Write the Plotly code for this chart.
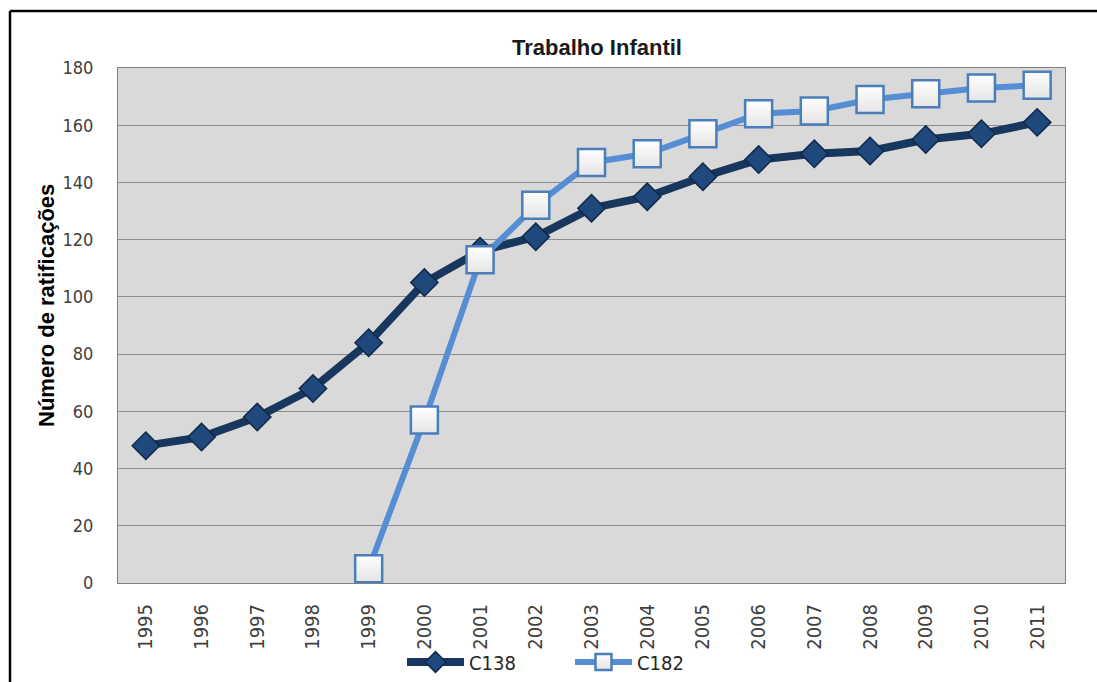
import plotly.graph_objects as go

years = ["1995", "1996", "1997", "1998", "1999", "2000", "2001", "2002", "2003",
         "2004", "2005", "2006", "2007", "2008", "2009", "2010", "2011"]
c138 = [48, 51, 58, 68, 84, 105, 116, 121, 131, 135, 142, 148, 150, 151, 155, 157, 161]
c182_years = years[4:]
c182 = [5, 57, 113, 132, 147, 150, 157, 164, 165, 169, 171, 173, 174]

W, H = 1097, 682
L, R, T, B = 118, 32, 68, 99
pw, ph = W - L - R, H - T - B

def px_x(p):
    return (p - L) / pw

def px_y(p):
    return (H - B - p) / ph

narrow = "DejaVu Sans Condensed, Liberation Sans Narrow, Arial Narrow, sans-serif"

fig = go.Figure()
fig.add_trace(go.Scatter(
    x=years, y=c138, name="C138", mode="lines+markers",
    line=dict(color="#17375e", width=8),
    marker=dict(symbol="diamond", size=21, color="#1f497d",
                line=dict(color="#10284a", width=1.5)),
))
fig.add_trace(go.Scatter(
    x=c182_years, y=c182, name="C182", mode="lines+markers",
    line=dict(color="#558ed5", width=6),
    marker=dict(symbol="square", size=27, color="#ffffff",
                gradient=dict(type="vertical", color="#e4e4e4"),
                line=dict(color="#4a7ebb", width=2.5)),
))

frame = dict(color="#000000", width=2.5)

fig.update_layout(
    width=W, height=H,
    margin=dict(l=L, r=R, t=T, b=B, autoexpand=False),
    paper_bgcolor="#ffffff",
    plot_bgcolor="#d9d9d9",
    title=dict(text="<b>Trabalho Infantil</b>", xref="container", x=597 / W,
               xanchor="center", y=1 - 47 / H, yanchor="middle",
               font=dict(family="Liberation Sans, Arial, sans-serif", size=22,
                         color="#1a1a1a")),
    showlegend=True,
    legend=dict(orientation="h", x=px_x(402), xanchor="left",
                y=px_y(662), yanchor="middle", itemwidth=57, entrywidth=96,
                font=dict(family=narrow, size=20, color="#262626"),
                bgcolor="rgba(0,0,0,0)", tracegroupgap=0),
    xaxis=dict(type="category", categoryorder="array", categoryarray=years,
               range=[-0.5, 16.5], tickangle=-90,
               tickfont=dict(family=narrow, size=20, color="#404040"),
               ticklabelstandoff=12, showgrid=False, zeroline=False,
               showline=True, linecolor="#7f7f7f", linewidth=1, mirror=True),
    yaxis=dict(range=[0, 180], dtick=20, tick0=0,
               tickfont=dict(family=narrow, size=18, color="#404040"),
               ticklabelstandoff=20, showgrid=True, gridcolor="#8c8c8c",
               gridwidth=1, zeroline=False,
               showline=True, linecolor="#7f7f7f", linewidth=1, mirror=True),
    annotations=[dict(text="<b>Número de ratificações</b>", textangle=-90,
                      xref="paper", yref="paper", x=px_x(46), y=px_y(306),
                      xanchor="center", yanchor="middle", showarrow=False,
                      font=dict(family="Liberation Sans, Arial, sans-serif",
                                size=22, color="#000000"))],
    shapes=[
        dict(type="line", xref="paper", yref="paper",
             x0=px_x(10), x1=px_x(W), y0=px_y(11), y1=px_y(11),
             line=frame, layer="below"),
        dict(type="line", xref="paper", yref="paper",
             x0=px_x(10), x1=px_x(10), y0=px_y(11), y1=px_y(H),
             line=frame, layer="below"),
    ],
)

fig.write_html("out.html", config={"displayModeBar": False},
               post_script="document.body.style.margin='0px';"
                           "document.body.style.overflow='hidden';")
